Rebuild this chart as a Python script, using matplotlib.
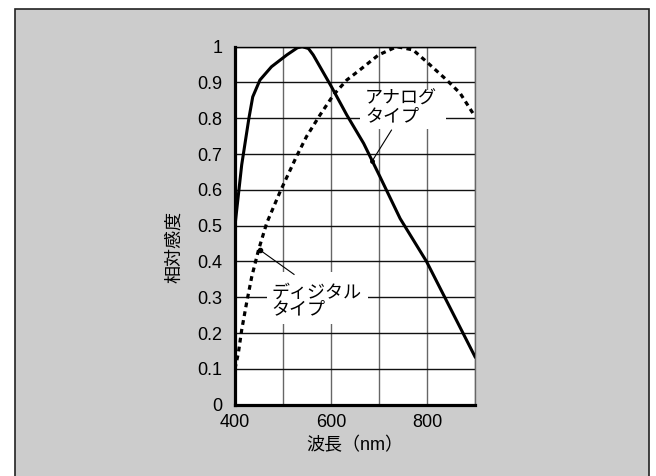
# 相対感度の分光特性グラフ
import matplotlib.pyplot as plt
from matplotlib.patches import Rectangle

plt.rcParams['font.family'] = ['Liberation Sans', 'Noto Sans CJK JP', 'DejaVu Sans']

# アナログタイプ (実線)
analog_nm = [400, 414, 429, 437, 452, 476, 508, 530, 540, 553, 563, 601, 633,
             668, 702, 744, 799, 837, 900]
analog_val = [0.50, 0.67, 0.80, 0.86, 0.907, 0.944, 0.977, 0.997, 1.0, 0.995,
              0.977, 0.888, 0.809, 0.73, 0.637, 0.52, 0.40, 0.30, 0.134]

# ディジタルタイプ (点線)
digital_nm = [400, 407, 414, 424, 435, 449, 466, 494, 528, 549, 577, 605, 633,
              660, 699, 737, 771, 799, 841, 869, 900]
digital_val = [0.10, 0.144, 0.209, 0.283, 0.358, 0.432, 0.507, 0.595, 0.693,
               0.749, 0.809, 0.865, 0.907, 0.935, 0.977, 1.0, 0.991, 0.958,
               0.907, 0.87, 0.805]

x_ticks = [400, 500, 600, 700, 800, 900]
x_labels = ['400', '', '600', '', '800', '']
y_ticks = [0, 0.1, 0.2, 0.3, 0.4, 0.5, 0.6, 0.7, 0.8, 0.9, 1.0]
y_labels = ['0', '0.1', '0.2', '0.3', '0.4', '0.5', '0.6', '0.7', '0.8', '0.9', '1']

fig = plt.figure(figsize=(6.56, 4.76), dpi=100)
fig.patch.set_facecolor('white')
# 灰色の枠
fig.patches.append(Rectangle((15 / 656, -0.02), 634 / 656, 467 / 476 + 0.02,
                             transform=fig.transFigure, facecolor='#cccccc',
                             edgecolor='#222222', linewidth=1.2, zorder=-1))

ax = fig.add_axes([0.3582, 0.1498, 0.3659, 0.7521])
ax.set_facecolor('white')
ax.set_xlim(400, 900)
ax.set_ylim(0, 1)
ax.set_axisbelow(True)

ax.set_xticks(x_ticks)
ax.set_xticklabels(x_labels, fontsize=13)
ax.set_yticks(y_ticks)
ax.set_yticklabels(y_labels, fontsize=13)
ax.tick_params(length=0)
ax.tick_params(axis='y', pad=9)
ax.tick_params(axis='x', pad=7)
ax.xaxis.grid(True, color='#666666', linewidth=1.0)
ax.yaxis.grid(True, color='#111111', linewidth=1.0)

for s in ['left', 'bottom']:
    ax.spines[s].set_linewidth(2.3)
ax.spines['top'].set_linewidth(1.0)
ax.spines['right'].set_linewidth(1.0)
ax.spines['right'].set_color('#666666')

# ラベル用の白い背景
ax.add_patch(Rectangle((660, 0.77), 180, 0.11, facecolor='white',
                       edgecolor='none', zorder=1))
ax.add_patch(Rectangle((467, 0.225), 210, 0.145, facecolor='white',
                       edgecolor='none', zorder=1))

ax.plot(analog_nm, analog_val, color='black', linewidth=2.2, zorder=3,
        solid_joinstyle='round')
ax.plot(digital_nm, digital_val, color='black', linewidth=2.3, zorder=3,
        linestyle=(0, (1.5, 1.3)))

# 引き出し線
ax.plot([726, 686], [0.767, 0.681], color='black', linewidth=0.8, zorder=4)
ax.plot([686], [0.681], 'o', color='black', markersize=2.5, zorder=4)
ax.plot([523, 452], [0.364, 0.432], color='black', linewidth=0.8, zorder=4)
ax.plot([452], [0.432], 'o', color='black', markersize=3, zorder=4)

ax.text(671, 0.829, 'アナログ\nタイプ', fontsize=13, ha='left', va='center',
        linespacing=1.0, zorder=5)
ax.text(476, 0.288, 'ディジタル\nタイプ', fontsize=13, ha='left', va='center',
        linespacing=0.95, zorder=5)

ax.set_xlabel('波長（nm）', fontsize=13)
ax.xaxis.label.set_verticalalignment('center')
ax.xaxis.set_label_coords(0.5, -0.113)
ax.set_ylabel('相対感度', fontsize=13)
ax.yaxis.label.set_verticalalignment('center')
ax.yaxis.set_label_coords(-0.25, 0.44)

plt.savefig('out.png', dpi=100)
